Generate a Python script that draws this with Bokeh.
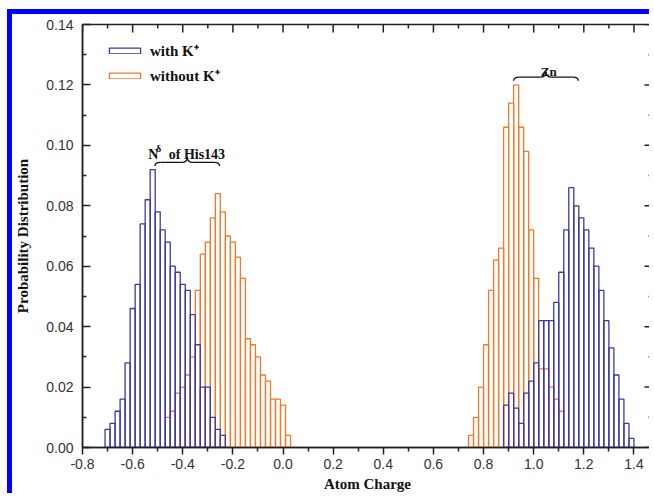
import math
from bokeh.plotting import figure
from bokeh.models import (Range1d, FixedTicker, Legend, LegendItem,
                          Label, PrintfTickFormatter, ColumnDataSource)
from bokeh.embed import file_html
from bokeh.resources import INLINE

BIN_WIDTH = 0.02

# N-delta of His143
nd_with_x = [-0.70, -0.68, -0.66, -0.64, -0.62, -0.60, -0.58, -0.56, -0.54, -0.52,
             -0.50, -0.48, -0.46, -0.44, -0.42, -0.40, -0.38, -0.36, -0.34, -0.32,
             -0.30, -0.28, -0.26, -0.24]
nd_with_p = [0.006, 0.008, 0.012, 0.016, 0.028, 0.046, 0.054, 0.074, 0.082, 0.092,
             0.078, 0.072, 0.068, 0.060, 0.058, 0.054, 0.052, 0.044, 0.034, 0.020,
             0.020, 0.010, 0.006, 0.004]
nd_without_x = [-0.46, -0.44, -0.42, -0.40, -0.38, -0.36, -0.34, -0.32, -0.30, -0.28,
                -0.26, -0.24, -0.22, -0.20, -0.18, -0.16, -0.14, -0.12, -0.10, -0.08,
                -0.06, -0.04, -0.02, 0.00, 0.02]
nd_without_p = [0.010, 0.012, 0.018, 0.020, 0.024, 0.030, 0.052, 0.064, 0.068, 0.076,
                0.084, 0.078, 0.070, 0.068, 0.063, 0.056, 0.036, 0.034, 0.030, 0.024,
                0.022, 0.016, 0.016, 0.014, 0.004]

# Zn
zn_with_x = [0.89, 0.91, 0.93, 0.95, 0.97, 0.99, 1.01, 1.03, 1.05, 1.07,
             1.09, 1.11, 1.13, 1.15, 1.17, 1.19, 1.21, 1.23, 1.25, 1.27,
             1.29, 1.31, 1.33, 1.35, 1.37, 1.39]
zn_with_p = [0.014, 0.018, 0.013, 0.008, 0.018, 0.022, 0.028, 0.042, 0.042, 0.042,
             0.048, 0.058, 0.072, 0.086, 0.080, 0.076, 0.072, 0.066, 0.060, 0.052,
             0.042, 0.033, 0.024, 0.016, 0.008, 0.003]
zn_without_x = [0.75, 0.77, 0.79, 0.81, 0.83, 0.85, 0.87, 0.89, 0.91, 0.93,
                0.95, 0.97, 0.99, 1.01, 1.03, 1.05, 1.07, 1.09, 1.11]
zn_without_p = [0.004, 0.010, 0.020, 0.034, 0.052, 0.062, 0.066, 0.106, 0.114, 0.120,
                0.106, 0.098, 0.072, 0.056, 0.026, 0.026, 0.020, 0.016, 0.012]

x_ticks = [-0.8, -0.6, -0.4, -0.2, 0.0, 0.2, 0.4, 0.6, 0.8, 1.0, 1.2, 1.4]
x_minor = [-0.7, -0.5, -0.3, -0.1, 0.1, 0.3, 0.5, 0.7, 0.9, 1.1, 1.3]
y_ticks = [0.00, 0.02, 0.04, 0.06, 0.08, 0.10, 0.12, 0.14]
y_minor = [0.01, 0.03, 0.05, 0.07, 0.09, 0.11, 0.13]

labels_with = "with K\u207a"
labels_without = "without K\u207a"

# annotation anchors (data units)
nd_brace = (-0.511, -0.253, 0.0944)
zn_brace = (0.920, 1.178, 0.1226)

X_MIN, X_MAX = -0.8, 1.474
Y_MIN, Y_MAX = 0.0, 0.14

BLUE = "#3a3aa8"
ORANGE = "#f2792a"
FRAME_BLUE = "#0000ff"
AX = "#222222"
SERIF = "Liberation Serif"
SANS = "Liberation Sans"

p = figure(width=642, height=484, x_range=Range1d(X_MIN, X_MAX), y_range=Range1d(Y_MIN, Y_MAX),
           output_backend="svg", toolbar_location=None,
           min_border_left=68, min_border_right=2, min_border_top=10, min_border_bottom=51)
p.styles = {"border-left": "5px solid " + FRAME_BLUE,
            "border-top": "5px solid " + FRAME_BLUE,
            "margin-left": "7px", "margin-top": "9px"}
p.grid.visible = False
p.outline_line_color = AX
p.outline_line_width = 1.5
p.background_fill_color = "white"
p.border_fill_color = "white"

src_without = ColumnDataSource(dict(x=nd_without_x + zn_without_x,
                                    top=nd_without_p + zn_without_p))
src_with = ColumnDataSource(dict(x=nd_with_x + zn_with_x, top=nd_with_p + zn_with_p))

r_without = p.vbar(x="x", top="top", width=BIN_WIDTH, source=src_without,
                   fill_color=None, line_color=ORANGE, line_width=1.3)
r_with = p.vbar(x="x", top="top", width=BIN_WIDTH, source=src_with,
                fill_color=None, line_color=BLUE, line_width=1.3)

xa = p.xaxis[0]
xa.ticker = FixedTicker(ticks=x_ticks, minor_ticks=x_minor)
xa.formatter = PrintfTickFormatter(format="%.1f")
xa.major_tick_out = 7
xa.major_tick_in = 0
xa.minor_tick_out = 4
xa.minor_tick_in = 0
xa.major_label_standoff = 4
xa.axis_label = "Atom Charge"
xa.axis_label_standoff = 4

ya = p.yaxis[0]
ya.ticker = FixedTicker(ticks=y_ticks, minor_ticks=y_minor)
ya.formatter = PrintfTickFormatter(format="%.2f")
ya.major_tick_out = 0
ya.major_tick_in = 8
ya.minor_tick_out = 0
ya.minor_tick_in = 4
ya.major_label_standoff = 9
ya.axis_label = "Probability Distribution"
ya.axis_label_standoff = 12

for a in (xa, ya):
    a.axis_line_color = AX
    a.axis_line_width = 1.5
    a.major_tick_line_color = AX
    a.major_tick_line_width = 1.5
    a.minor_tick_line_color = AX
    a.minor_tick_line_width = 1.5
    a.major_label_text_font = SANS
    a.major_label_text_font_size = "14px"
    a.major_label_text_color = "#333333"
    a.axis_label_text_font = SERIF
    a.axis_label_text_font_style = "bold"
    a.axis_label_text_font_size = "15px"
    a.axis_label_text_color = "#111111"

# inward ticks on the top and right frame edges
p.ray(x=x_ticks, y=[Y_MAX] * len(x_ticks), length=8, length_units="screen",
      angle=-math.pi / 2, line_color=AX, line_width=1.5)
p.ray(x=x_minor, y=[Y_MAX] * len(x_minor), length=4, length_units="screen",
      angle=-math.pi / 2, line_color=AX, line_width=1.5)
p.ray(x=[X_MAX] * len(y_ticks), y=y_ticks, length=8, length_units="screen",
      angle=math.pi, line_color=AX, line_width=1.5)
p.ray(x=[X_MAX] * len(y_minor), y=y_minor, length=4, length_units="screen",
      angle=math.pi, line_color=AX, line_width=1.5)

legend = Legend(items=[LegendItem(label=labels_with, renderers=[r_with]),
                       LegendItem(label=labels_without, renderers=[r_without])],
                location=(23, 362), padding=0, margin=0, spacing=5,
                glyph_width=39, glyph_height=7, label_standoff=6, label_height=20,
                label_text_font=SERIF, label_text_font_style="bold",
                label_text_font_size="15px", label_text_color="#111111",
                border_line_color=None, background_fill_alpha=0)
p.add_layout(legend)


def brace(x0, x1, y, color="#111111"):
    xm = (x0 + x1) / 2
    d = 0.022
    h = 0.0012
    t = 0.0017
    p.quadratic(x0=[x0, xm - d, xm, x1], y0=[y - h, y, y + t, y - h],
                x1=[x0 + d, xm, xm + d, x1 - d], y1=[y, y + t, y, y],
                cx=[x0, xm, xm, x1], cy=[y, y, y, y],
                line_color=color, line_width=1.3)
    p.segment(x0=[x0 + d, xm + d], y0=[y, y], x1=[xm - d, x1 - d], y1=[y, y],
              line_color=color, line_width=1.3)


brace(*nd_brace)
brace(*zn_brace)

for txt, x, y, size in [("N", -0.538, 0.0970, "14px"), ("\u03b4", -0.507, 0.0990, "10px"),
                        ("of His143", -0.456, 0.0970, "14px")]:
    p.add_layout(Label(x=x, y=y, text=txt, text_font=SERIF, text_font_style="bold",
                       text_font_size=size, text_color="#111111", text_baseline="alphabetic"))
p.add_layout(Label(x=1.06, y=0.1245, text="Zn", text_font=SERIF, text_font_style="bold",
                   text_font_size="13px", text_color="#111111", text_align="center",
                   text_baseline="alphabetic"))

open("out.html", "w").write(file_html(p, INLINE))
